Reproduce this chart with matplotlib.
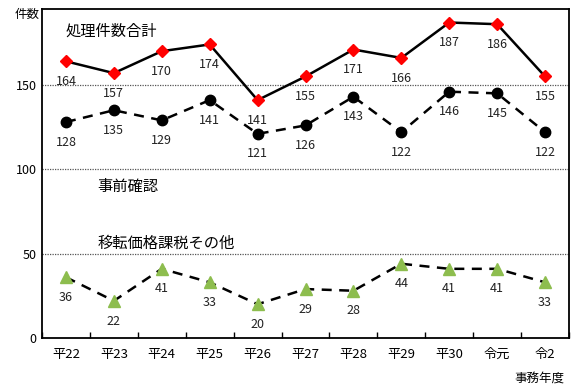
import matplotlib
matplotlib.use("Agg")
import matplotlib.pyplot as plt
import numpy as np

plt.rcParams['font.family'] = ['Noto Sans CJK JP', 'DejaVu Sans']

years = ['平22', '平23', '平24', '平25', '平26', '平27', '平28', '平29', '平30', '令元', '令2']
total = [164, 157, 170, 174, 141, 155, 171, 166, 187, 186, 155]
prior = [128, 135, 129, 141, 121, 126, 143, 122, 146, 145, 122]
other = [36, 22, 41, 33, 20, 29, 28, 44, 41, 41, 33]

fig = plt.figure(figsize=(5.72, 3.92), dpi=100)
ax = fig.add_axes([0.0734, 0.1378, 0.9214, 0.8392])
x = np.arange(len(years))

ax.plot(x, total, color='black', lw=1.8, marker='D', ms=6.5, mfc='red', mec='red', zorder=3)
ax.plot(x, prior, color='black', lw=1.8, ls=(0, (4, 3)), marker='o', ms=7.5, mfc='black', mec='black', zorder=3)
ax.plot(x, other, color='black', lw=1.8, ls=(0, (4, 3)), marker='^', ms=8, mfc='#8dbd4e', mec='#8dbd4e', zorder=3)

for series in (total, prior, other):
    for xi, v in zip(x, series):
        ax.annotate(str(v), (xi, v), xytext=(0, -14.5), textcoords='offset points',
                    ha='center', va='center', fontsize=9, color='#222222')

ax.set_xlim(-0.5, len(years) - 0.5)
ax.set_ylim(0, 195)
ax.set_yticks([0, 50, 100, 150])
ax.set_yticklabels(['0', '50', '100', '150'], fontsize=9)
ax.tick_params(axis='y', length=0, pad=4)
ax.set_xticks(x)
ax.set_xticklabels(years, fontsize=9.5)
ax.tick_params(axis='x', length=0, pad=7)
ax.set_xticks(np.arange(len(years) + 1) - 0.5, minor=True)
ax.tick_params(axis='x', which='minor', direction='in', length=4, width=1)
for yv in [50, 100, 150]:
    ax.axhline(yv, color='#555555', lw=0.9, ls=(0, (1, 1)), zorder=1)
for sp in ax.spines.values():
    sp.set_linewidth(1.3)

ax.text(0.0, 182, '処理件数合計', fontsize=11, ha='left', va='center')
ax.text(0.65, 90, '事前確認', fontsize=11, ha='left', va='center')
ax.text(0.65, 56, '移転価格課税その他', fontsize=11, ha='left', va='center')
fig.text(0.026, 0.962, '件数', fontsize=9, ha='left', va='center')
fig.text(0.986, 0.033, '事務年度', fontsize=9, ha='right', va='center')

fig.savefig('out.png', dpi=100)
